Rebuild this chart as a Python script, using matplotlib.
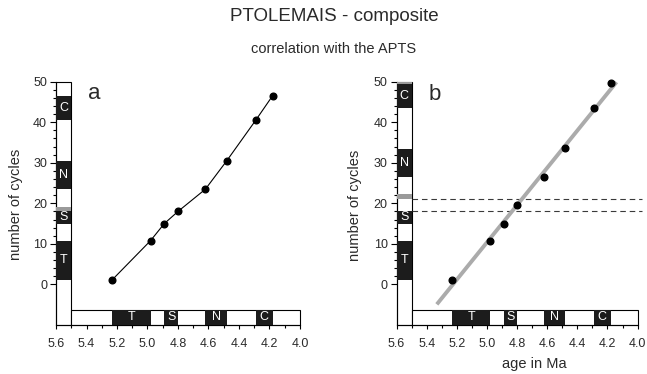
import matplotlib
matplotlib.use("Agg")
import matplotlib.pyplot as plt
from matplotlib.patches import Rectangle
from matplotlib.ticker import FixedLocator

plt.rcParams['font.family'] = ['Liberation Sans', 'DejaVu Sans']

# ---- data ----
ages = [5.23, 4.98, 4.89, 4.80, 4.62, 4.48, 4.29, 4.18]
cycles_a = [1.2, 10.8, 15.0, 18.0, 23.5, 30.5, 40.5, 46.5]
cycles_b = [1.2, 10.8, 15.0, 19.6, 26.5, 33.6, 43.6, 49.6]
fit_age = [5.333, 4.14]
fit_cycles = [-4.9, 49.9]
dash_levels = [21.0, 18.0]

# APTS reference blocks on the age axis (label, older, younger)
age_labels = ['T', 'S', 'N', 'C']
age_start = [5.23, 4.89, 4.62, 4.29]
age_end = [4.98, 4.80, 4.48, 4.18]

# blocks on the cycle axis (label, bottom, top)
cyc_labels = ['T', 'S', 'N', 'C']
cyc_a_bottom = [1.2, 15.0, 23.5, 40.5]
cyc_a_top = [10.8, 18.2, 30.5, 46.5]
cyc_a_gray = [(18.2, 19.2)]
cyc_b_bottom = [1.2, 15.0, 26.5, 43.5]
cyc_b_top = [10.8, 18.2, 33.5, 49.5]
cyc_b_gray = [(21.0, 22.2), (49.5, 50.0)]

xticks = [5.6, 5.4, 5.2, 5.0, 4.8, 4.6, 4.4, 4.2, 4.0]
yticks = [0, 10, 20, 30, 40, 50]

DARK = '#1c1c1c'
TXT = '#2a2a2a'

fig = plt.figure(figsize=(6.47, 3.74), dpi=100)
ax_a = fig.add_axes([0.0866, 0.131, 0.377, 0.6506])
ax_b = fig.add_axes([0.613, 0.131, 0.3725, 0.6506])


def setup(ax, bottoms, tops, grays):
    ax.set_xlim(5.6, 4.0)
    ax.set_ylim(-10, 50)
    for s in ['top', 'right']:
        ax.spines[s].set_visible(False)
    for s in ['left', 'bottom']:
        ax.spines[s].set_linewidth(0.8)
    ax.xaxis.set_major_locator(FixedLocator(xticks))
    ax.xaxis.set_minor_locator(FixedLocator([5.5, 5.3, 5.1, 4.9, 4.7, 4.5, 4.3, 4.1]))
    ax.yaxis.set_major_locator(FixedLocator(yticks))
    ax.yaxis.set_minor_locator(FixedLocator([v for v in range(2, 50, 2) if v % 10]))
    ax.set_xticklabels([f'{v:.1f}' for v in xticks])
    ax.tick_params(axis='x', which='major', length=3, width=0.8, pad=6,
                   labelsize=9, labelcolor=TXT)
    ax.tick_params(axis='x', which='minor', length=2, width=0.8)
    ax.tick_params(axis='y', which='major', length=4.5, width=0.8, pad=2,
                   labelsize=9, labelcolor=TXT)
    ax.tick_params(axis='y', which='minor', length=2.5, width=0.8)

    # vertical cycle bar
    ax.add_patch(Rectangle((5.6, -10), -0.1, 60, facecolor='white',
                           edgecolor='black', lw=0.8, zorder=2, clip_on=False))
    for lab, b, t in zip(cyc_labels, bottoms, tops):
        ax.add_patch(Rectangle((5.6, b), -0.1, t - b, facecolor=DARK,
                               edgecolor='none', zorder=3, clip_on=False))
        ax.text(5.55, (b + t) / 2, lab, color='white', ha='center', va='center',
                fontsize=9, zorder=4)
    for b, t in grays:
        ax.add_patch(Rectangle((5.6, b), -0.1, t - b, facecolor='#9a9a9a',
                               edgecolor='none', zorder=3, clip_on=False))
    # horizontal age bar
    ax.add_patch(Rectangle((5.5, -10), -1.5, 3.8, facecolor='white',
                           edgecolor='black', lw=0.8, zorder=2, clip_on=False))
    for lab, s, e in zip(age_labels, age_start, age_end):
        ax.add_patch(Rectangle((s, -10), e - s, 3.8, facecolor=DARK,
                               edgecolor='none', zorder=3, clip_on=False))
        ax.text((s + e) / 2, -8.1, lab, color='white', ha='center', va='center',
                fontsize=9, zorder=4)


setup(ax_a, cyc_a_bottom, cyc_a_top, cyc_a_gray)
setup(ax_b, cyc_b_bottom, cyc_b_top, cyc_b_gray)

# panel a: connected points
ax_a.plot(ages, cycles_a, color='black', lw=0.8, marker='o', markersize=4.8,
          zorder=5, clip_on=False)
ax_a.text(5.35, 47.0, 'a', fontsize=16, ha='center', va='center', color=TXT)

# panel b: regression line, points, dashed levels
ax_b.plot(fit_age, fit_cycles, color='#ababab', lw=2.8, solid_capstyle='butt',
          zorder=4, clip_on=False)
ax_b.plot(ages, cycles_b, 'o', color='black', markersize=4.8, zorder=5,
          clip_on=False)
for lv in dash_levels:
    ax_b.plot([5.5, 3.97], [lv, lv], color='#3a3a3a', lw=0.8,
              dashes=(5, 3.5), zorder=3, clip_on=False)
ax_b.text(5.35, 46.8, 'b', fontsize=16, ha='center', va='center', color=TXT)

# texts
fig.text(0.516, 1 - 20.7 / 374, 'PTOLEMAIS - composite', ha='center',
         va='baseline', fontsize=13.5, color=TXT)
fig.text(0.516, 1 - 53 / 374, 'correlation with the APTS', ha='center',
         va='baseline', fontsize=10.5, color=TXT)
fig.text(16 / 647, 1 - 204 / 374, 'number of cycles', rotation=90,
         ha='center', va='center', fontsize=10.5, color=TXT)
fig.text(355 / 647, 1 - 205 / 374, 'number of cycles', rotation=90,
         ha='center', va='center', fontsize=10.5, color=TXT)
fig.text(534 / 647, 1 - 367.7 / 374, 'age in Ma', ha='center',
         va='baseline', fontsize=10.5, color=TXT)

fig.savefig('out.png', dpi=100)
